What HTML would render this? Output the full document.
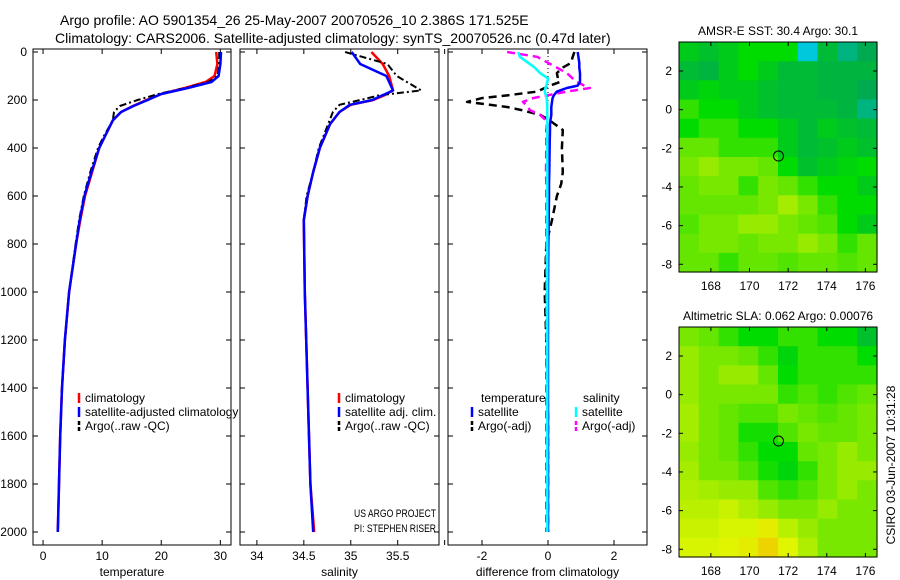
<!DOCTYPE html>
<html><head><meta charset="utf-8"><style>
body{margin:0;background:#fff;}
svg{display:block;font-family:"Liberation Sans",sans-serif;}
</style></head><body>
<svg id="fig" width="900" height="580" viewBox="0 0 900 580"></svg>
<script>
// ---- data ----
const tDepth=[0,50,100,125,150,175,200,225,250,285,350,400,500,600,700,800,1000,1200,1400,1600,1800,2000];
const tClim=[29.3,29.5,29.0,27.5,24,20,17.5,15.2,13.2,11.8,10.5,9.5,8.3,7.1,6.3,5.6,4.4,3.7,3.2,2.9,2.7,2.5];
const tSat=[30.1,30.0,29.7,28.5,24.5,20,17.7,15.3,13.2,11.8,10.5,9.5,8.2,7.0,6.2,5.6,4.4,3.7,3.2,2.9,2.7,2.5];
const tArgo=[29.8,29.8,29.5,28.0,24,19.5,16,13,12,11.8,10.3,9.3,8.0,6.9,6.1,5.5,4.4,3.7,3.2,2.9,2.7,2.5];
const sDepth=[0,50,100,160,180,200,220,250,300,400,500,600,700,1000,1400,1800,2000];
const sClim=[35.22,35.34,35.41,35.45,35.36,35.24,35.0,34.88,34.78,34.67,34.6,34.54,34.5,34.51,34.54,34.57,34.61];
const sSat=[35.01,35.1,35.38,35.45,35.34,35.23,34.99,34.88,34.78,34.67,34.6,34.54,34.5,34.51,34.54,34.57,34.6];
const sArgo=[34.94,35.39,35.49,35.75,35.31,35.1,34.88,34.81,34.76,34.66,34.6,34.53,34.5,34.51,34.54,34.57,34.6];
const dDepth=[0,20,45,65,88,110,125,140,150,165,180,192,208,229,242,262,280,300,325,400,500,550,600,700,800,1000,1200,1500,2000];
const dSatT=[0.9,0.92,0.95,0.95,0.97,0.97,0.97,0.9,0.57,0.27,0.18,0.14,0.12,0.1,0.1,0.1,0.08,0.06,0.06,0.05,0.04,0.03,0.03,0.02,0.01,0.0,0.0,0.0,0.0];
const dSatS=[-0.9,-0.85,-0.6,-0.4,-0.24,0.0,-0.02,-0.05,-0.08,-0.1,-0.06,-0.04,-0.03,-0.02,-0.02,-0.02,-0.02,-0.02,-0.02,-0.02,-0.02,-0.02,-0.02,-0.02,-0.02,-0.02,-0.02,-0.02,-0.02];
const dArgoT=[0.8,0.75,0.7,0.45,0.27,0.3,0.36,0.06,-0.1,-0.33,-1.2,-2.0,-2.45,-1.24,-0.8,-0.24,0.0,0.2,0.45,0.42,0.45,0.4,0.27,0.12,-0.05,-0.1,-0.05,0.0,0.0];
const dArgoS=[-1.24,-0.33,0.0,0.27,0.57,0.75,0.88,1.1,1.27,0.57,0.0,-0.45,-0.76,-0.6,-0.55,-0.24,-0.1,-0.03,-0.05,-0.05,-0.06,-0.05,-0.05,-0.05,-0.05,-0.05,-0.05,-0.05,-0.05];
const depthTicks=[0,200,400,600,800,1000,1200,1400,1600,1800,2000];
const tTicks=[0,10,20,30];
const sTicks=[34,34.5,35,35.5,36];
const sTickLabels=["34","34.5","35","35.5",""];
const dTicks=[-2,0,2];
const lonTicks=[168,170,172,174,176];
const latTicks=[2,0,-2,-4,-6,-8];
const sstGrid=[
[0.45,0.42,0.45,0.5,0.5,0.5,0.2,0.4,0.3,0.35],
[0.4,0.38,0.45,0.5,0.45,0.4,0.4,0.38,0.38,0.38],
[0.45,0.48,0.45,0.45,0.42,0.4,0.4,0.38,0.38,0.35],
[0.55,0.5,0.5,0.45,0.42,0.4,0.4,0.4,0.38,0.3],
[0.5,0.55,0.55,0.5,0.5,0.45,0.4,0.45,0.42,0.4],
[0.6,0.6,0.55,0.55,0.55,0.45,0.4,0.42,0.45,0.42],
[0.62,0.65,0.62,0.62,0.6,0.5,0.42,0.45,0.48,0.5],
[0.6,0.62,0.62,0.55,0.62,0.6,0.55,0.5,0.5,0.45],
[0.6,0.6,0.6,0.6,0.62,0.68,0.62,0.55,0.5,0.5],
[0.58,0.62,0.62,0.65,0.65,0.62,0.6,0.58,0.5,0.45],
[0.6,0.62,0.62,0.6,0.62,0.62,0.65,0.62,0.55,0.6],
[0.6,0.6,0.55,0.6,0.6,0.58,0.6,0.6,0.58,0.6]];
const slaGrid=[
[0.62,0.6,0.55,0.5,0.5,0.55,0.55,0.5,0.5,0.42],
[0.65,0.62,0.62,0.6,0.55,0.48,0.55,0.55,0.55,0.5],
[0.65,0.62,0.65,0.65,0.6,0.5,0.55,0.55,0.55,0.55],
[0.65,0.62,0.62,0.62,0.62,0.55,0.58,0.55,0.58,0.6],
[0.68,0.62,0.6,0.58,0.58,0.62,0.6,0.58,0.6,0.62],
[0.68,0.62,0.6,0.52,0.52,0.58,0.62,0.6,0.6,0.62],
[0.65,0.62,0.6,0.55,0.5,0.5,0.6,0.62,0.65,0.62],
[0.68,0.62,0.62,0.58,0.52,0.48,0.55,0.62,0.65,0.65],
[0.7,0.68,0.65,0.65,0.58,0.55,0.58,0.62,0.65,0.62],
[0.72,0.72,0.75,0.7,0.65,0.62,0.62,0.65,0.62,0.62],
[0.75,0.75,0.78,0.78,0.82,0.72,0.65,0.62,0.62,0.62],
[0.78,0.78,0.8,0.82,0.88,0.8,0.7,0.62,0.62,0.62]];
const floatPos=[171.5,-2.4];

// ---- helpers ----
const NS="http://www.w3.org/2000/svg";
const svg=document.getElementById('fig');
function mk(tag,attrs,parent){const e=document.createElementNS(NS,tag);for(const k in attrs)e.setAttribute(k,attrs[k]);(parent||svg).appendChild(e);return e;}
function txt(x,y,s,size,anchor,name,parent){const t=mk('text',{x:x,y:y,'font-size':size,'text-anchor':anchor||'start',fill:'#000'},parent);t.textContent=s;


return t;}
function lin(d0,d1,p0,p1){return v=>p0+(v-d0)/(d1-d0)*(p1-p0);}
const Y=lin(0,2000,52,532);
const TOP=49,BOT=545;

function panel(name,x0,x1,xd0,xd1,ticks,labels,title,showY){
  const g=mk('g',{});
  
  
  const X=lin(xd0,xd1,x0,x1);
  const cp='clip-'+name;
  const cpe=mk('clipPath',{id:cp},g);mk('rect',{x:x0,y:TOP,width:x1-x0,height:BOT-TOP},cpe);
  const frame=mk('rect',{x:x0,y:TOP,width:x1-x0,height:BOT-TOP,fill:'#fff',stroke:'#000','stroke-width':1},g);
  
  
  ticks.forEach((t,i)=>{const x=X(t);
    mk('line',{x1:x,y1:TOP,x2:x,y2:TOP+5,stroke:'#000'},g);
    mk('line',{x1:x,y1:BOT,x2:x,y2:BOT-5,stroke:'#000'},g);
    if(labels[i]!=="")txt(x,560,labels[i],12,'middle','x-tick-label',g);});
  depthTicks.forEach(d=>{const y=Y(d);
    mk('line',{x1:x0,y1:y,x2:x0+5,y2:y,stroke:'#000'},g);
    mk('line',{x1:x1,y1:y,x2:x1-5,y2:y,stroke:'#000'},g);
    if(showY)txt(x0-6,y+4,String(d),12,'end','y-tick-label',g);});
  txt((x0+x1)/2,576,title,12,'middle','x-axis-title',g);
  const inner=mk('g',{'clip-path':'url(#'+cp+')'},g);
  return {X,g:inner,outer:g};
}
function series(P,vals,depths,color,dash,w,name){
  const pts=vals.map((v,i)=>P.X(v).toFixed(1)+','+Y(depths[i]).toFixed(1)).join(' ');
  const pl=mk('polyline',{points:pts,fill:'none',stroke:color,'stroke-width':w,'stroke-dasharray':dash||'none','stroke-linejoin':'round'},P.g);
  
  
}
function legendEntry(parent,x,y,color,dash,label,name){
  const g=mk('g',{},parent);
  
  
  mk('line',{x1:x,y1:y-9,x2:x,y2:y+1,stroke:color,'stroke-width':2.5,'stroke-dasharray':dash||'none'},g);
  txt(x+6,y,label,12,'start','legend-label',g);
}

// ---- titles ----
txt(60,25,'Argo profile: AO 5901354_26 25-May-2007 20070526_10 2.386S 171.525E',14,'start','figure-title-line1');
txt(55,43,'Climatology: CARS2006. Satellite-adjusted climatology: synTS_20070526.nc (0.47d later)',14,'start','figure-title-line2');

// ---- panel 1 temperature ----
const P1=panel('temperature-panel',33,231,-1.7,31.8,tTicks,tTicks.map(String),'temperature',true);
series(P1,tClim,tDepth,'#f00','',2.5,'temp-climatology-line');
series(P1,tArgo,tDepth,'#000','7,3,2,3',2,'temp-argo-line');
series(P1,tSat,tDepth,'#00f','',2.5,'temp-satellite-line');
legendEntry(P1.outer,79,402,'#f00','','climatology','legend-climatology');
legendEntry(P1.outer,79,416,'#00f','','satellite-adjusted climatology','legend-satellite');
legendEntry(P1.outer,79,430,'#000','4,2','Argo(..raw -QC)','legend-argo');

// ---- panel 2 salinity ----
const P2=panel('salinity-panel',240,439,33.82,35.94,sTicks,sTickLabels,'salinity',false);
series(P2,sClim,sDepth,'#f00','',2.5,'sal-climatology-line');
series(P2,sArgo,sDepth,'#000','7,3,2,3',2,'sal-argo-line');
series(P2,sSat,sDepth,'#00f','',2.5,'sal-satellite-line');
legendEntry(P2.outer,339,402,'#f00','','climatology','legend-climatology');
legendEntry(P2.outer,339,416,'#00f','','satellite adj. clim.','legend-satellite');
legendEntry(P2.outer,339,430,'#000','4,2','Argo(..raw -QC)','legend-argo');

// ---- panel 3 differences ----
const P3=panel('difference-panel',448,647,-3.03,3.0,dTicks,dTicks.map(String),'difference from climatology',false);
mk('line',{x1:P3.X(0),y1:Y(0),x2:P3.X(0),y2:Y(220),stroke:'#000','stroke-dasharray':'1,3'},P3.g);
series(P3,dArgoT,dDepth,'#000','8,5',2.5,'diff-argo-temp-line');
series(P3,dArgoS,dDepth,'#f0f','8,5',2.5,'diff-argo-sal-line');
series(P3,dSatT,dDepth,'#00f','',2.5,'diff-sat-temp-line');
series(P3,dSatS,dDepth,'#0ff','',2.5,'diff-sat-sal-line');
txt(481,402,'temperature',12,'start','legend-temperature-heading',P3.outer);
txt(583,402,'salinity',12,'start','legend-salinity-heading',P3.outer);
legendEntry(P3.outer,472,416,'#00f','','satellite','legend-sat-temp');
legendEntry(P3.outer,472,430,'#000','4,2','Argo(-adj)','legend-argo-temp');
legendEntry(P3.outer,576,416,'#0ff','','satellite','legend-sat-sal');
legendEntry(P3.outer,576,430,'#f0f','4,2','Argo(-adj)','legend-argo-sal');

const pj=txt(354,517,'US ARGO PROJECT',11,'start','project-label');
pj.setAttribute('textLength','82');pj.setAttribute('lengthAdjust','spacingAndGlyphs');
const pi=txt(354,532,'PI: STEPHEN RISER',11,'start','pi-label');
pi.setAttribute('textLength','82');pi.setAttribute('lengthAdjust','spacingAndGlyphs');

// ---- maps ----
const stops=[[0,[0,50,200]],[0.2,[0,200,220]],[0.35,[0,170,80]],[0.5,[0,220,0]],[0.65,[150,235,0]],[0.8,[225,245,0]],[1,[255,160,0]]];
function cmap(v){for(let i=1;i<stops.length;i++){if(v<=stops[i][0]){const a=stops[i-1],b=stops[i],f=(v-a[0])/(b[0]-a[0]);
 return 'rgb('+a[1].map((c,k)=>Math.round(c+f*(b[1][k]-c))).join(',')+')';}}return 'rgb(255,160,0)';}
const LON0=166.35,LON1=176.6,LAT0=3.5,LAT1=-8.4;
function mapPanel(name,y0,y1,grid,title,xlabels){
  const x0=679,x1=877;
  const g=mk('g',{});
  
  
  const X=lin(LON0,LON1,x0,x1),Yl=lin(LAT0,LAT1,y0,y1);
  const rows=grid.length,cols=grid[0].length;
  const dlon=(LON1-LON0)/cols,dlat=(LAT0-LAT1)/rows;
  grid.forEach((row,r)=>row.forEach((v,c)=>{
    const xa=X(LON0+c*dlon),xb=X(LON0+(c+1)*dlon),ya=Yl(LAT0-r*dlat),yb=Yl(LAT0-(r+1)*dlat);
    const cell=mk('rect',{x:xa.toFixed(1),y:ya.toFixed(1),width:(xb-xa+0.6).toFixed(1),height:(yb-ya+0.6).toFixed(1),fill:cmap(v)},g);
    
    
  }));
  mk('rect',{x:x0,y:y0,width:x1-x0,height:y1-y0,fill:'none',stroke:'#000'},g);
  lonTicks.forEach(l=>{const x=X(l);mk('line',{x1:x,y1:y0,x2:x,y2:y0+4,stroke:'#000'},g);mk('line',{x1:x,y1:y1,x2:x,y2:y1-4,stroke:'#000'},g);
    if(xlabels)txt(x,y1+18,String(l),12,'middle','lon-tick-label',g);});
  latTicks.forEach(l=>{const y=Yl(l);mk('line',{x1:x0,y1:y,x2:x0+4,y2:y,stroke:'#000'},g);mk('line',{x1:x1,y1:y,x2:x1-4,y2:y,stroke:'#000'},g);
    txt(x0-7,y+4,String(l),12,'end','lat-tick-label',g);});
  const c=mk('circle',{cx:X(floatPos[0]),cy:Yl(floatPos[1]),r:5,fill:'none',stroke:'#000'},g);
  
  
  txt((x0+x1)/2,y0-7,title,12,'middle','map-title',g);
}
mapPanel('sst-map',42,272,sstGrid,'AMSR-E SST: 30.4 Argo: 30.1',true);
mapPanel('sla-map',327,557,slaGrid,'Altimetric SLA: 0.062 Argo: 0.00076',true);
const side=txt(0,0,'CSIRO 03-Jun-2007 10:31:28',12,'middle','timestamp-label');
side.setAttribute('transform','translate(895,465) rotate(-90)');
</script>
</body></html>
